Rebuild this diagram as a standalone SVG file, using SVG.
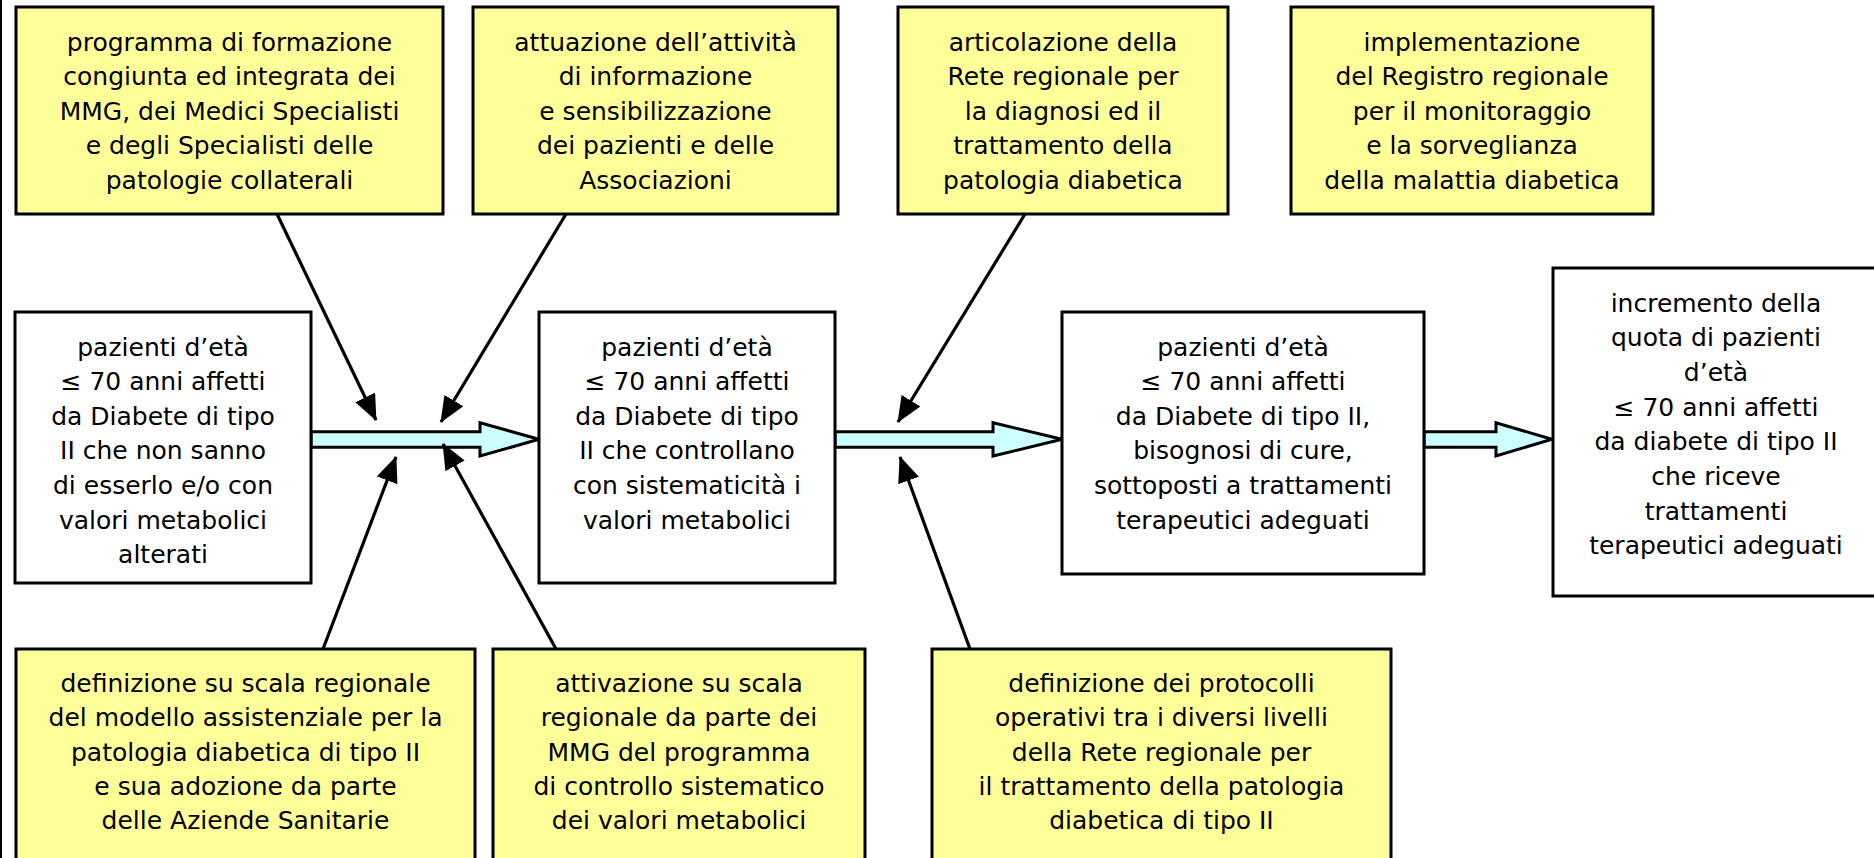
<svg xmlns="http://www.w3.org/2000/svg" width="1874" height="858" viewBox="0 0 1874 858">
<defs>
<style>
.box{stroke:#000;stroke-width:3}
.y{fill:#FFFF99}
.w{fill:#FFFFFF}
.t{font-family:"DejaVu Sans","Verdana",sans-serif;font-size:25px;fill:#000;text-anchor:middle}
.ln{stroke:#000;stroke-width:3.2;fill:none}
.blk{fill:#CCFFFF;stroke:#000;stroke-width:3;stroke-linejoin:miter}
</style>
<marker id="ah" markerUnits="userSpaceOnUse" markerWidth="26" markerHeight="22" refX="25" refY="11" orient="auto">
<path d="M0,0 L26,11 L0,22 z" fill="#000"/>
</marker>
</defs>
<rect x="0" y="0" width="1874" height="858" fill="#fff"/>
<rect x="0" y="0" width="2" height="858" fill="#000"/>

<g id="connectors">
<polygon class="blk" points="311,431.7 480,431.7 480,422.7 539,439.3 480,456 480,447.3 311,447.3"/>
<polygon class="blk" points="835,431.7 993,431.7 993,422.7 1062,439.3 993,456 993,447.3 835,447.3"/>
<polygon class="blk" points="1424,431.7 1496,431.7 1496,422.7 1552,439.3 1496,456 1496,447.3 1424,447.3"/>
<line class="ln" x1="277" y1="214" x2="376" y2="420" marker-end="url(#ah)"/>
<line class="ln" x1="566" y1="214" x2="441" y2="422" marker-end="url(#ah)"/>
<line class="ln" x1="1025" y1="214" x2="898" y2="422" marker-end="url(#ah)"/>
<line class="ln" x1="323" y1="649" x2="396" y2="457" marker-end="url(#ah)"/>
<line class="ln" x1="556" y1="649" x2="443" y2="444" marker-end="url(#ah)"/>
<line class="ln" x1="970" y1="649" x2="900" y2="457" marker-end="url(#ah)"/>
</g>

<g id="t1">
<rect class="box y" x="16" y="7" width="427" height="207"/>
<text class="t" y="50.5"><tspan x="229.5">programma di formazione</tspan><tspan x="229.5" dy="34.6">congiunta ed integrata dei</tspan><tspan x="229.5" dy="34.6">MMG, dei Medici Specialisti</tspan><tspan x="229.5" dy="34.6">e degli Specialisti delle</tspan><tspan x="229.5" dy="34.6">patologie collaterali</tspan></text>
</g>
<g id="t2">
<rect class="box y" x="473" y="7" width="365" height="207"/>
<text class="t" y="50.5"><tspan x="655.5">attuazione dell’attività</tspan><tspan x="655.5" dy="34.6">di informazione</tspan><tspan x="655.5" dy="34.6">e sensibilizzazione</tspan><tspan x="655.5" dy="34.6">dei pazienti e delle</tspan><tspan x="655.5" dy="34.6">Associazioni</tspan></text>
</g>
<g id="t3">
<rect class="box y" x="898" y="7" width="330" height="207"/>
<text class="t" y="50.5"><tspan x="1063">articolazione della</tspan><tspan x="1063" dy="34.6">Rete regionale per</tspan><tspan x="1063" dy="34.6">la diagnosi ed il</tspan><tspan x="1063" dy="34.6">trattamento della</tspan><tspan x="1063" dy="34.6">patologia diabetica</tspan></text>
</g>
<g id="t4">
<rect class="box y" x="1291" y="7" width="362" height="207"/>
<text class="t" y="50.5"><tspan x="1472">implementazione</tspan><tspan x="1472" dy="34.6">del Registro regionale</tspan><tspan x="1472" dy="34.6">per il monitoraggio</tspan><tspan x="1472" dy="34.6">e la sorveglianza</tspan><tspan x="1472" dy="34.6">della malattia diabetica</tspan></text>
</g>

<g id="m1">
<rect class="box w" x="15" y="312" width="296" height="271"/>
<text class="t" y="355.5"><tspan x="163">pazienti d’età</tspan><tspan x="163" dy="34.6">≤ 70 anni affetti</tspan><tspan x="163" dy="34.6">da Diabete di tipo</tspan><tspan x="163" dy="34.6">II che non sanno</tspan><tspan x="163" dy="34.6">di esserlo e/o con</tspan><tspan x="163" dy="34.6">valori metabolici</tspan><tspan x="163" dy="34.6">alterati</tspan></text>
</g>
<g id="m2">
<rect class="box w" x="539" y="312" width="296" height="271"/>
<text class="t" y="355.5"><tspan x="687">pazienti d’età</tspan><tspan x="687" dy="34.6">≤ 70 anni affetti</tspan><tspan x="687" dy="34.6">da Diabete di tipo</tspan><tspan x="687" dy="34.6">II che controllano</tspan><tspan x="687" dy="34.6">con sistematicità i</tspan><tspan x="687" dy="34.6">valori metabolici</tspan></text>
</g>
<g id="m3">
<rect class="box w" x="1062" y="312" width="362" height="262"/>
<text class="t" y="355.5"><tspan x="1243">pazienti d’età</tspan><tspan x="1243" dy="34.6">≤ 70 anni affetti</tspan><tspan x="1243" dy="34.6">da Diabete di tipo II,</tspan><tspan x="1243" dy="34.6">bisognosi di cure,</tspan><tspan x="1243" dy="34.6">sottoposti a trattamenti</tspan><tspan x="1243" dy="34.6">terapeutici adeguati</tspan></text>
</g>
<g id="m4">
<rect class="box w" x="1553" y="268" width="327" height="328"/>
<text class="t" y="311.5"><tspan x="1716">incremento della</tspan><tspan x="1716" dy="34.7">quota di pazienti</tspan><tspan x="1716" dy="34.7">d’età</tspan><tspan x="1716" dy="34.7">≤ 70 anni affetti</tspan><tspan x="1716" dy="34.7">da diabete di tipo II</tspan><tspan x="1716" dy="34.7">che riceve</tspan><tspan x="1716" dy="34.7">trattamenti</tspan><tspan x="1716" dy="34.7">terapeutici adeguati</tspan></text>
</g>

<g id="b1">
<rect class="box y" x="16" y="649" width="459" height="220"/>
<text class="t" y="692"><tspan x="245.5">definizione su scala regionale</tspan><tspan x="245.5" dy="34.3">del modello assistenziale per la</tspan><tspan x="245.5" dy="34.3">patologia diabetica di tipo II</tspan><tspan x="245.5" dy="34.3">e sua adozione da parte</tspan><tspan x="245.5" dy="34.3">delle Aziende Sanitarie</tspan></text>
</g>
<g id="b2">
<rect class="box y" x="493" y="649" width="372" height="220"/>
<text class="t" y="692"><tspan x="679">attivazione su scala</tspan><tspan x="679" dy="34.3">regionale da parte dei</tspan><tspan x="679" dy="34.3">MMG del programma</tspan><tspan x="679" dy="34.3">di controllo sistematico</tspan><tspan x="679" dy="34.3">dei valori metabolici</tspan></text>
</g>
<g id="b3">
<rect class="box y" x="932" y="649" width="459" height="220"/>
<text class="t" y="692"><tspan x="1161.5">definizione dei protocolli</tspan><tspan x="1161.5" dy="34.3">operativi tra i diversi livelli</tspan><tspan x="1161.5" dy="34.3">della Rete regionale per</tspan><tspan x="1161.5" dy="34.3">il trattamento della patologia</tspan><tspan x="1161.5" dy="34.3">diabetica di tipo II</tspan></text>
</g>
</svg>
